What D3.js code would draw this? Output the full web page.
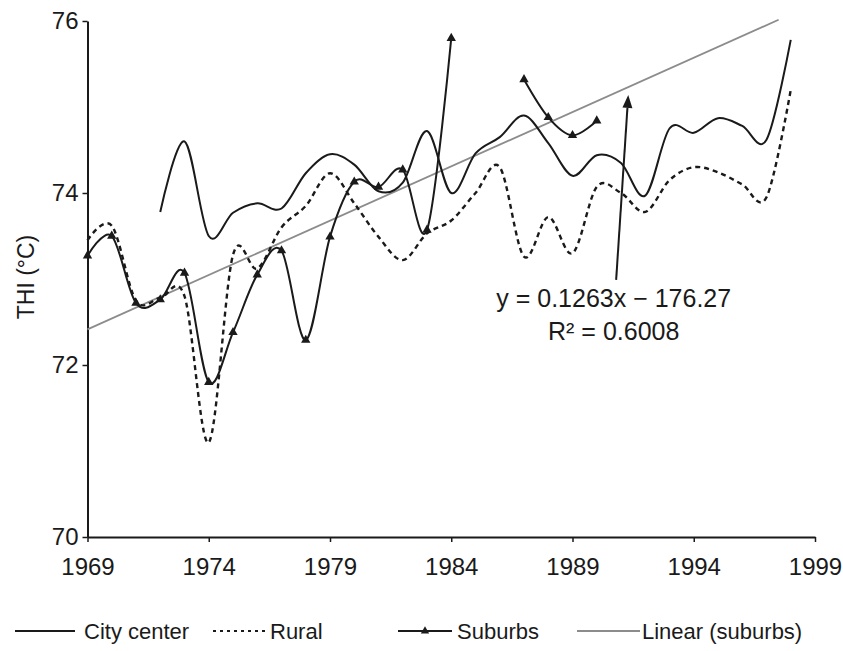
<!DOCTYPE html>
<html><head><meta charset="utf-8">
<script src="https://cdn.jsdelivr.net/npm/d3@7"></script>
<style>body{margin:0;background:#fff}svg{display:block}</style>
</head><body><svg id="c" width="843" height="651"></svg>
<script>
const years = [1969,1970,1971,1972,1973,1974,1975,1976,1977,1978,1979,1980,1981,1982,1983,1984,1985,1986,1987,1988,1989,1990,1991,1992,1993,1994,1995,1996,1997,1998];
const cityCenter = [null,null,null,73.78,74.6,73.5,73.77,73.88,73.82,74.23,74.45,74.33,74.02,74.12,74.72,74.0,74.46,74.65,74.9,74.58,74.2,74.44,74.35,73.97,74.75,74.7,74.87,74.78,74.62,75.78];
const rural = [73.45,73.62,72.75,72.78,72.8,71.1,73.28,73.12,73.6,73.85,74.23,73.88,73.49,73.22,73.53,73.68,74.0,74.3,73.26,73.72,73.3,74.07,74.0,73.78,74.15,74.3,74.24,74.1,73.95,75.2];
const suburbs = [73.27,73.5,72.72,72.76,73.07,71.8,72.38,73.05,73.33,72.29,73.49,74.13,74.07,74.27,73.57,75.8,null,null,75.32,74.88,74.67,74.84,null,null,null,null,null,null,null,null];
const xTickYears = [1969,1974,1979,1984,1989,1994,1999];
const yTicks = [70,72,74,76];
const trendSlope = 0.1263, trendIntercept = -176.27;
const trendYears = [1969, 1997.5];
const equationLines = ["y = 0.1263x \u2212 176.27", "R\u00B2 = 0.6008"];
const equationAnchor = [1990.7, 72.67, 72.29];
const arrowFrom = [1990.8, 72.99], arrowTo = [1991.3, 75.14];
const legendLabels = ["City center","Rural","Suburbs","Linear (suburbs)"];

const FONT = "'Liberation Sans', Arial, Helvetica, sans-serif";
const INK = "#1a1a1a";
const svg = d3.select("#c").style("font-family", FONT);
const x = d3.scaleLinear().domain([1969,1999]).range([87.5,815]);
const y = d3.scaleLinear().domain([70,76]).range([537,21]);

// axes
const gy = svg.append("g").attr("transform","translate(87.5,0)")
  .call(d3.axisLeft(y).tickValues(yTicks).tickSize(5).tickSizeOuter(0).tickPadding(4).tickFormat(d3.format("d")));
const gx = svg.append("g").attr("transform","translate(0,537)")
  .call(d3.axisBottom(x).tickValues(xTickYears).tickSize(5).tickSizeOuter(0).tickPadding(16).tickFormat(d3.format("d")));
[gx,gy].forEach(g=>{
  g.select(".domain").attr("stroke",INK).attr("stroke-width",2);
  g.selectAll(".tick line").attr("stroke",INK).attr("stroke-width",1.5);
  g.selectAll("text").attr("fill",INK).style("font-size","24px").style("font-family",FONT);
});

svg.append("text").attr("transform","translate(34,277) rotate(-90)")
  .attr("text-anchor","middle").attr("fill",INK).style("font-size","23px").text("THI (\u00B0C)");

const curve = d3.curveCatmullRom.alpha(0);
const mk = vals => years.map((yr,i)=>[yr, vals[i]]);
const line = d3.line().defined(d=>d[1]!=null).x(d=>x(d[0])).y(d=>y(d[1])).curve(curve);

// trendline
svg.append("path").datum(trendYears.map(t=>[t, trendSlope*t+trendIntercept]))
  .attr("d", d3.line().x(d=>x(d[0])).y(d=>y(d[1])))
  .attr("fill","none").attr("stroke","#8c8c8c").attr("stroke-width",1.8);

svg.append("path").datum(mk(rural)).attr("d",line)
  .attr("fill","none").attr("stroke",INK).attr("stroke-width",2.4).attr("stroke-dasharray","5,4");
svg.append("path").datum(mk(cityCenter)).attr("d",line)
  .attr("fill","none").attr("stroke",INK).attr("stroke-width",2);
svg.append("path").datum(mk(suburbs)).attr("d",line)
  .attr("fill","none").attr("stroke",INK).attr("stroke-width",2);
const tri = d3.symbol(d3.symbolTriangle, 38);
svg.append("g").selectAll("path").data(mk(suburbs).filter(d=>d[1]!=null)).join("path")
  .attr("d",tri).attr("transform",d=>`translate(${x(d[0])},${y(d[1])})`).attr("fill",INK);

// annotation arrow + equation
const ax1=x(arrowFrom[0]), ay1=y(arrowFrom[1]), ax2=x(arrowTo[0]), ay2=y(arrowTo[1]);
const ang = Math.atan2(ay2-ay1, ax2-ax1);
const hl=13, hw=5;
const bx = ax2 - hl*Math.cos(ang), by = ay2 - hl*Math.sin(ang);
svg.append("line").attr("x1",ax1).attr("y1",ay1).attr("x2",bx).attr("y2",by)
  .attr("stroke",INK).attr("stroke-width",2);
svg.append("path").attr("d",`M${ax2},${ay2}L${bx - hw*Math.sin(ang)},${by + hw*Math.cos(ang)}L${bx + hw*Math.sin(ang)},${by - hw*Math.cos(ang)}Z`)
  .attr("fill",INK);
equationLines.forEach((t,i)=>{
  svg.append("text").attr("x",x(equationAnchor[0])).attr("y",y(equationAnchor[1+i]))
    .attr("text-anchor","middle").attr("fill",INK).style("font-size","25px").text(t);
});

// legend
const ly = 631;
const lg = svg.append("g").style("font-size","22px").attr("fill",INK);
lg.append("line").attr("x1",15).attr("x2",75).attr("y1",ly).attr("y2",ly).attr("stroke",INK).attr("stroke-width",2);
lg.append("text").attr("x",84).attr("y",ly+8).text(legendLabels[0]);
lg.append("line").attr("x1",213).attr("x2",266).attr("y1",ly).attr("y2",ly).attr("stroke",INK).attr("stroke-width",2).attr("stroke-dasharray","3,4");
lg.append("text").attr("x",270).attr("y",ly+8).text(legendLabels[1]);
lg.append("line").attr("x1",398).attr("x2",452).attr("y1",ly).attr("y2",ly).attr("stroke",INK).attr("stroke-width",2);
lg.append("path").attr("d",d3.symbol(d3.symbolTriangle,30)).attr("transform",`translate(425,${ly})`).attr("fill",INK);
lg.append("text").attr("x",457).attr("y",ly+8).text(legendLabels[2]);
lg.append("line").attr("x1",577).attr("x2",640).attr("y1",ly).attr("y2",ly).attr("stroke","#8c8c8c").attr("stroke-width",2);
lg.append("text").attr("x",642).attr("y",ly+8).text(legendLabels[3]);
</script>
</body></html>
